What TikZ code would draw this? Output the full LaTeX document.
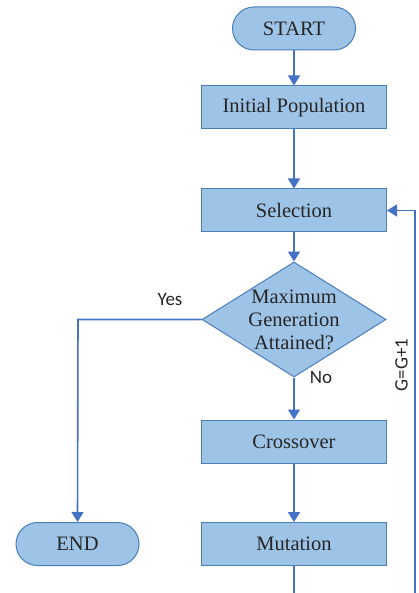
\documentclass[tikz,border=0pt]{standalone}
\usepackage{fontspec}
\setmainfont{Liberation Serif}
\newfontfamily\lab{Carlito}
\usetikzlibrary{arrows.meta,shapes.geometric,shapes.misc}
\definecolor{boxfill}{HTML}{9DC3E6}
\definecolor{boxline}{HTML}{4A7EBB}
\definecolor{arr}{HTML}{4472C4}
\definecolor{txt}{HTML}{262626}
\tikzset{
  procbox/.style={draw=boxline, line width=1pt, fill=boxfill, minimum width=185pt, minimum height=43pt, inner sep=0pt, text=txt, font=\fontsize{20.5}{24}\selectfont},
  termbox/.style={draw=boxline, line width=1pt, fill=boxfill, rounded rectangle, minimum width=123pt, minimum height=43pt, inner sep=0pt, text=txt, font=\fontsize{20.5}{24}\selectfont},
  decbox/.style={draw=boxline, line width=1pt, fill=boxfill, diamond, minimum width=184pt, minimum height=115pt, inner sep=0pt},
  flow/.style={draw=arr, line width=1.6pt, -{Triangle[width=12pt,length=10pt]}},
  plain/.style={draw=arr, line width=1.6pt},
  lbl/.style={text=txt, font=\lab\fontsize{19}{22}\selectfont, inner sep=0pt}
}
\begin{document}
\begin{tikzpicture}[x=1pt,y=-1pt]
\useasboundingbox (0,0) rectangle (419,593);
\node[termbox] (start) at (294,28.5) {START};
\node[procbox] (init) at (294,107.5) {Initial Population};
\node[procbox] (sel) at (294,210.5) {Selection};
\node[decbox] (dec) at (294,319.5) {};
\node[text=txt, font=\fontsize{20.5}{23}\selectfont, align=center, inner sep=0pt] (dect) at (294,319.5) {Maximum\\Generation\\Attained?};
\node[procbox] (cross) at (294,441.5) {Crossover};
\node[procbox] (mut) at (294,544) {Mutation};
\node[termbox] (end) at (77.5,544) {END};
\coordinate (yc) at (78,319.5);
\coordinate (bot) at (294,593);
\coordinate (fb0) at (415,593);
\coordinate (fb1) at (415,210.5);
\draw[flow] (start.south) -- (init.north);
\draw[flow] (init.south) -- (sel.north);
\draw[flow] (sel.south) -- (dec.north);
\draw[flow] (dec.south) -- (cross.north);
\draw[flow] (cross.south) -- (mut.north);
\draw[flow] (dec.west) -- (yc) -- (end.north);
\draw[plain] (mut.south) -- (bot);
\draw[flow] (fb0) -- (fb1) -- (sel.east);
\node[lbl] (yes) at (170,299.5) {Yes};
\node[lbl] (no) at (321,377.5) {No};
\node[lbl, rotate=90] (gg) at (401.5,365) {G=G+1};
\end{tikzpicture}
\end{document}
